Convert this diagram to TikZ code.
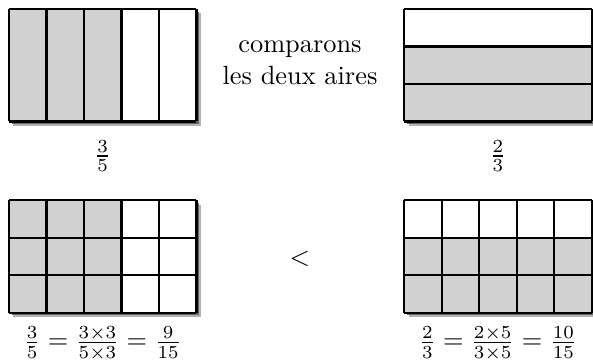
\documentclass[tikz,border=0pt]{standalone}
\usepackage{amsmath}
\usepackage{xcolor}
\usepackage{tikz}

\begin{document}
\begin{tikzpicture}[
  bord/.style={thick},
  part/.style={fill=black!18},
  ombre/.style={fill=black!30},
  ombrefonce/.style={fill=black!60}]
\useasboundingbox (0,0) rectangle (7.9067,4.8);
% 3/5 en haut a gauche
\begin{scope}[shift={(0.12,3.18)}]
\fill[ombre] (0.06,-0.06) rectangle (2.56,1.44);
\fill[ombrefonce] (0.035,-0.035) rectangle (2.535,1.465);
\fill[white] (0,0) rectangle (2.5,1.5);
\fill[part] (0,0) rectangle (1.5,1.5);
\draw[bord,xstep=0.5,ystep=1.5] (0,0) grid (2.5,1.5);
\end{scope}
% 2/3 en haut a droite
\begin{scope}[shift={(5.39,3.18)}]
\fill[ombre] (0.06,-0.06) rectangle (2.56,1.44);
\fill[ombrefonce] (0.035,-0.035) rectangle (2.535,1.465);
\fill[white] (0,0) rectangle (2.5,1.5);
\fill[part] (0,0) rectangle (2.5,1);
\draw[bord,xstep=2.5,ystep=0.5] (0,0) grid (2.5,1.5);
\end{scope}
% 9/15 en bas a gauche
\begin{scope}[shift={(0.12,0.63)}]
\fill[ombre] (0.06,-0.06) rectangle (2.56,1.44);
\fill[ombrefonce] (0.035,-0.035) rectangle (2.535,1.465);
\fill[white] (0,0) rectangle (2.5,1.5);
\fill[part] (0,0) rectangle (1.5,1.5);
\draw[bord,step=0.5] (0,0) grid (2.5,1.5);
\end{scope}
% 10/15 en bas a droite
\begin{scope}[shift={(5.39,0.63)}]
\fill[ombre] (0.06,-0.06) rectangle (2.56,1.44);
\fill[ombrefonce] (0.035,-0.035) rectangle (2.535,1.465);
\fill[white] (0,0) rectangle (2.5,1.5);
\fill[part] (0,0) rectangle (2.5,1);
\draw[bord,step=0.5] (0,0) grid (2.5,1.5);
\end{scope}
\node (titre) at (4.0,3.96) [align=center] {comparons\\les deux aires};
\node (fracA) at (1.37,2.72) {$\frac{3}{5}$};
\node (fracB) at (6.64,2.72) {$\frac{2}{3}$};
\node (inf) at (4.0,1.35) {$<$};
\node (egalA) at (1.37,0.22) {$\frac{3}{5}=\frac{3\times3}{5\times3}=\frac{9}{15}$};
\node (egalB) at (6.64,0.22) {$\frac{2}{3}=\frac{2\times5}{3\times5}=\frac{10}{15}$};
\end{tikzpicture}
\end{document}
